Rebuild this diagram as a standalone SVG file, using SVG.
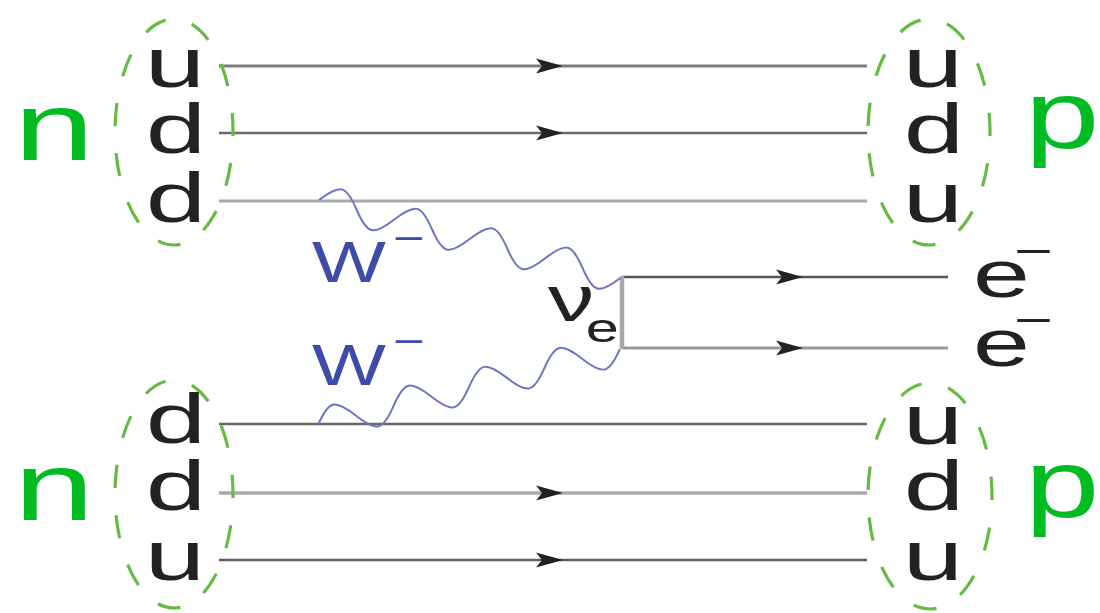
<svg xmlns="http://www.w3.org/2000/svg" xmlns:xlink="http://www.w3.org/1999/xlink" width="1100" height="613" viewBox="0 0 1100 613">
<style>
.q{font-family:"Liberation Sans",Arial,sans-serif;font-size:70px;fill:#222;text-anchor:middle}
.h{font-family:"Liberation Sans",Arial,sans-serif;font-size:96px;fill:#00bb22;text-anchor:middle}
.w{font-family:"Liberation Sans",Arial,sans-serif;font-size:58px;fill:#3e4ba8}
.e{font-family:"Liberation Sans",Arial,sans-serif;font-size:66px;fill:#222}
.bag{fill:none;stroke:#66bb44;stroke-width:3.2;stroke-dasharray:23 27;stroke-dashoffset:19}
.ln{fill:none;stroke-linecap:butt}
.wave{fill:none;stroke:#6b75c0;stroke-width:2}
</style>
<defs>
<path id="ah" d="M0,0 L-27,-7.5 L-21,0 L-27,7.5 Z" fill="#222"/>
<path id="wv" d="M0,0 c16.5,-21.3 22.4,-21.3 38.9,0 c16.5,21.3 22.4,21.3 38.9,0 c16.5,-21.3 22.4,-21.3 38.9,0 c16.5,21.3 22.4,21.3 38.9,0 c16.5,-21.3 22.4,-21.3 38.9,0 c16.5,21.3 22.4,21.3 38.9,0 c16.5,-21.3 22.4,-21.3 38.9,0 c16.5,21.3 22.4,21.3 38.9,0"/>
</defs>
<rect width="1100" height="613" fill="#fff"/>

<g id="connectors">
  <line class="ln" x1="219" y1="66" x2="867" y2="66" stroke="#7d7d7d" stroke-width="3"/>
  <line class="ln" x1="219" y1="133" x2="867" y2="133" stroke="#6a6a6a" stroke-width="2.5"/>
  <line class="ln" x1="219" y1="201" x2="867" y2="201" stroke="#a8a8a8" stroke-width="3"/>
  <line class="ln" x1="219" y1="424" x2="867" y2="424" stroke="#666" stroke-width="2.5"/>
  <line class="ln" x1="219" y1="493" x2="867" y2="493" stroke="#aaa" stroke-width="3.5"/>
  <line class="ln" x1="219" y1="560" x2="867" y2="560" stroke="#5e5e5e" stroke-width="2.5"/>
  <line class="ln" x1="622" y1="277" x2="948" y2="277" stroke="#555" stroke-width="2.5"/>
  <line class="ln" x1="622" y1="348" x2="948" y2="348" stroke="#999" stroke-width="3"/>
  <line class="ln" x1="622" y1="276" x2="622" y2="349" stroke="#a8a8a8" stroke-width="4.5"/>
  <use xlink:href="#ah" x="563" y="66"/>
  <use xlink:href="#ah" x="563" y="133"/>
  <use xlink:href="#ah" x="563" y="493"/>
  <use xlink:href="#ah" x="563" y="560"/>
  <use xlink:href="#ah" x="803" y="277"/>
  <use xlink:href="#ah" x="803" y="348"/>
  <use class="wave" xlink:href="#wv" transform="translate(319,200) rotate(14.5)"/>
  <use class="wave" xlink:href="#wv" transform="translate(318,425) rotate(-14.1)"/>
</g>

<g id="neutron-top">
  <ellipse class="bag" cx="174" cy="132" rx="59" ry="113" pathLength="550"/>
  <text class="h" transform="translate(54,160) scale(1.5,1)">n</text>
  <text class="q" transform="translate(175,87) scale(1.55,1)">u</text>
  <text class="q" transform="translate(176,153) scale(1.55,1)">d</text>
  <text class="q" transform="translate(176,222) scale(1.55,1)">d</text>
</g>

<g id="proton-top">
  <ellipse class="bag" cx="929" cy="132" rx="61" ry="113" pathLength="550"/>
  <text class="h" transform="translate(1062,148) scale(1.4,1)">p</text>
  <text class="q" transform="translate(933,87) scale(1.55,1)">u</text>
  <text class="q" transform="translate(934,153) scale(1.55,1)">d</text>
  <text class="q" transform="translate(933,222) scale(1.55,1)">u</text>
</g>

<g id="neutron-bottom">
  <ellipse class="bag" cx="174" cy="494" rx="59" ry="114" pathLength="550"/>
  <text class="h" transform="translate(54,520) scale(1.5,1)">n</text>
  <text class="q" transform="translate(176,443) scale(1.55,1)">d</text>
  <text class="q" transform="translate(176,510) scale(1.55,1)">d</text>
  <text class="q" transform="translate(175,580) scale(1.55,1)">u</text>
</g>

<g id="proton-bottom">
  <ellipse class="bag" cx="930" cy="496" rx="62" ry="113" pathLength="550"/>
  <text class="h" transform="translate(1062,517) scale(1.4,1)">p</text>
  <text class="q" transform="translate(933,444) scale(1.55,1)">u</text>
  <text class="q" transform="translate(934,510) scale(1.55,1)">d</text>
  <text class="q" transform="translate(933,580) scale(1.55,1)">u</text>
</g>

<g id="w-boson-1">
  <text class="w" transform="translate(312,282) scale(1.35,1)">W<tspan x="60" dy="-30" font-size="40">−</tspan></text>
</g>
<g id="w-boson-2">
  <text class="w" transform="translate(312,385) scale(1.35,1)">W<tspan x="60" dy="-30" font-size="40">−</tspan></text>
</g>

<g id="neutrino">
  <text class="e" transform="translate(548,321) scale(1.45,1)" style="font-size:64px">ν<tspan x="26" dy="21" font-size="41">e</tspan></text>
</g>

<g id="electron-1">
  <text class="e" transform="translate(973,297) scale(1.55,1)">e<tspan x="26.5" dy="-31" font-size="43">−</tspan></text>
</g>
<g id="electron-2">
  <text class="e" transform="translate(973,366) scale(1.55,1)">e<tspan x="26.5" dy="-31" font-size="43">−</tspan></text>
</g>
</svg>
